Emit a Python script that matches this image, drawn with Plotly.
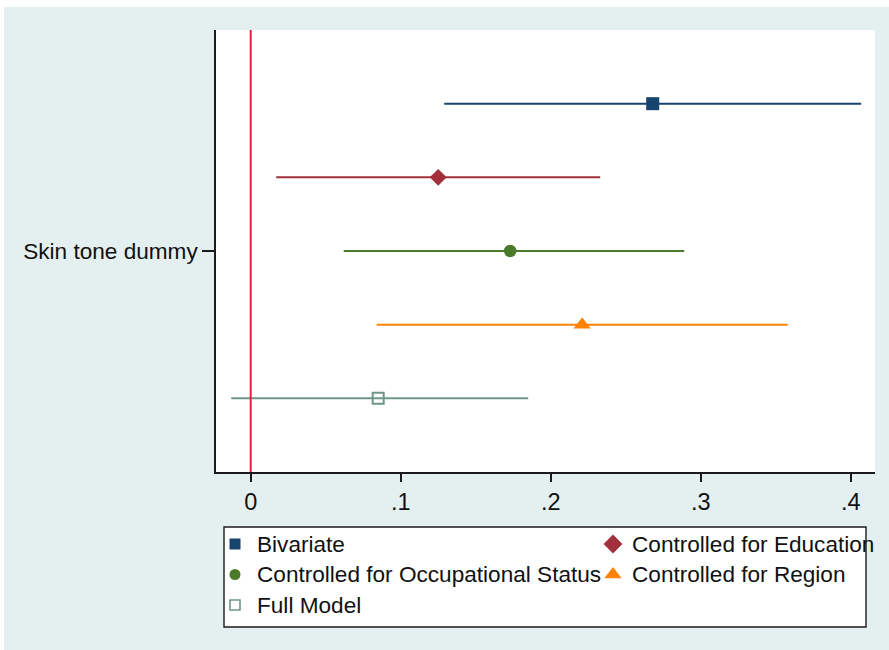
import plotly.graph_objects as go

# Coefficient estimates with 95% confidence bounds, one row per model
models = [
    "Bivariate",
    "Controlled for Education",
    "Controlled for Occupational Status",
    "Controlled for Region",
    "Full Model",
]
estimate = [0.268, 0.125, 0.173, 0.221, 0.085]
lower = [0.129, 0.017, 0.062, 0.084, -0.013]
upper = [0.407, 0.233, 0.289, 0.358, 0.185]

variable_label = "Skin tone dummy"
x_ticks = [0, 0.1, 0.2, 0.3, 0.4]
x_tick_text = ["0", ".1", ".2", ".3", ".4"]

# Marker styling per model
colors = ["#17436F", "#A2303A", "#4B7A2A", "#FF8208", "#6E978A"]
symbols = ["square", "diamond", "circle", "triangle-up", "square-open"]
sizes = [13, 13, 12.5, 15, 11]
legend_sizes = [11, 14.5, 11, 15, 10]

W, H = 889, 650
BG = "#E4F0F0"
FONT = "Liberation Sans, Arial, sans-serif"
FS = 22.6

# plot area in pixels
PL, PR, PT, PB = 216, 875, 30, 472
# legend box in pixels
LL, LR, LT, LB = 224, 866, 527, 627


def px_x(v):
    return v / W


def px_y(v):
    return (H - v) / H


fig = go.Figure()

n = len(models)
for i, name in enumerate(models):
    row = (n - 1) / 2 - i
    is_open = symbols[i].endswith("open")
    fig.add_trace(go.Scatter(
        x=[estimate[i]],
        y=[row],
        mode="markers",
        name=name,
        showlegend=False,
        marker=dict(
            symbol=symbols[i],
            size=sizes[i],
            color=colors[i],
            line=dict(width=2 if is_open else 0, color=colors[i]),
        ),
        error_x=dict(
            type="data",
            symmetric=False,
            array=[upper[i] - estimate[i]],
            arrayminus=[estimate[i] - lower[i]],
            color=colors[i],
            thickness=2,
            width=0,
        ),
        hoverinfo="skip",
    ))

# Legend: two columns, filled row by row
col_marker = [235, 613]
col_text = [255, 630]
row_y = [544, 574.5, 605]
for i, name in enumerate(models):
    c, r = i % 2, i // 2
    is_open = symbols[i].endswith("open")
    fig.add_trace(go.Scatter(
        x=[col_marker[c]],
        y=[row_y[r]],
        xaxis="x2",
        yaxis="y2",
        mode="markers",
        showlegend=False,
        marker=dict(
            symbol=symbols[i],
            size=legend_sizes[i],
            color=colors[i],
            line=dict(width=1.6 if is_open else 0, color=colors[i]),
        ),
        hoverinfo="skip",
    ))
    fig.add_annotation(
        x=col_text[c], y=row_y[r], xref="x2", yref="y2",
        text=name, showarrow=False, xanchor="left", yanchor="middle",
        font=dict(family=FONT, size=FS, color="#111111"),
    )

shapes = [
    # white strips along the top and left edges
    dict(type="rect", xref="paper", yref="paper", x0=0, x1=1,
         y0=px_y(7), y1=1, fillcolor="white", line_width=0, layer="below"),
    dict(type="rect", xref="paper", yref="paper", x0=0, x1=px_x(4),
         y0=0, y1=1, fillcolor="white", line_width=0, layer="below"),
    # legend frame
    dict(type="rect", xref="paper", yref="paper",
         x0=px_x(LL), x1=px_x(LR), y0=px_y(LB), y1=px_y(LT),
         fillcolor="white", line=dict(color="#1a1a1a", width=1.4),
         layer="below"),
    # reference line at zero
    dict(type="line", xref="x", yref="y domain", x0=0, x1=0, y0=0, y1=1,
         line=dict(color="#E5203D", width=2)),
]

fig.update_layout(
    width=W,
    height=H,
    margin=dict(l=0, r=0, t=0, b=0),
    paper_bgcolor=BG,
    plot_bgcolor="white",
    font=dict(family=FONT, size=FS, color="#111111"),
    shapes=shapes,
    xaxis=dict(
        domain=[px_x(PL), px_x(PR)],
        range=[(PL - 250.7) / 1500, (PR - 250.7) / 1500],
        tickvals=x_ticks,
        ticktext=x_tick_text,
        tickfont=dict(size=23.5),
        ticks="outside",
        ticklen=8,
        tickwidth=1.5,
        tickcolor="#1a1a1a",
        showline=True,
        linecolor="#1a1a1a",
        linewidth=1.5,
        showgrid=False,
        zeroline=False,
        fixedrange=True,
    ),
    yaxis=dict(
        domain=[px_y(PB), px_y(PT)],
        range=[-3, 3],
        tickvals=[0],
        ticktext=[variable_label],
        ticks="outside",
        ticklen=12,
        tickwidth=1.5,
        tickcolor="#1a1a1a",
        showline=True,
        linecolor="#1a1a1a",
        linewidth=1.5,
        showgrid=False,
        zeroline=False,
        fixedrange=True,
    ),
    xaxis2=dict(
        domain=[px_x(LL + 1), px_x(LR - 1)],
        range=[LL + 1, LR - 1],
        visible=False,
        anchor="y2",
        fixedrange=True,
    ),
    yaxis2=dict(
        domain=[px_y(LB - 1), px_y(LT + 1)],
        range=[LB - 1, LT + 1],
        visible=False,
        anchor="x2",
        fixedrange=True,
    ),
)

fig.write_html("out.html")
